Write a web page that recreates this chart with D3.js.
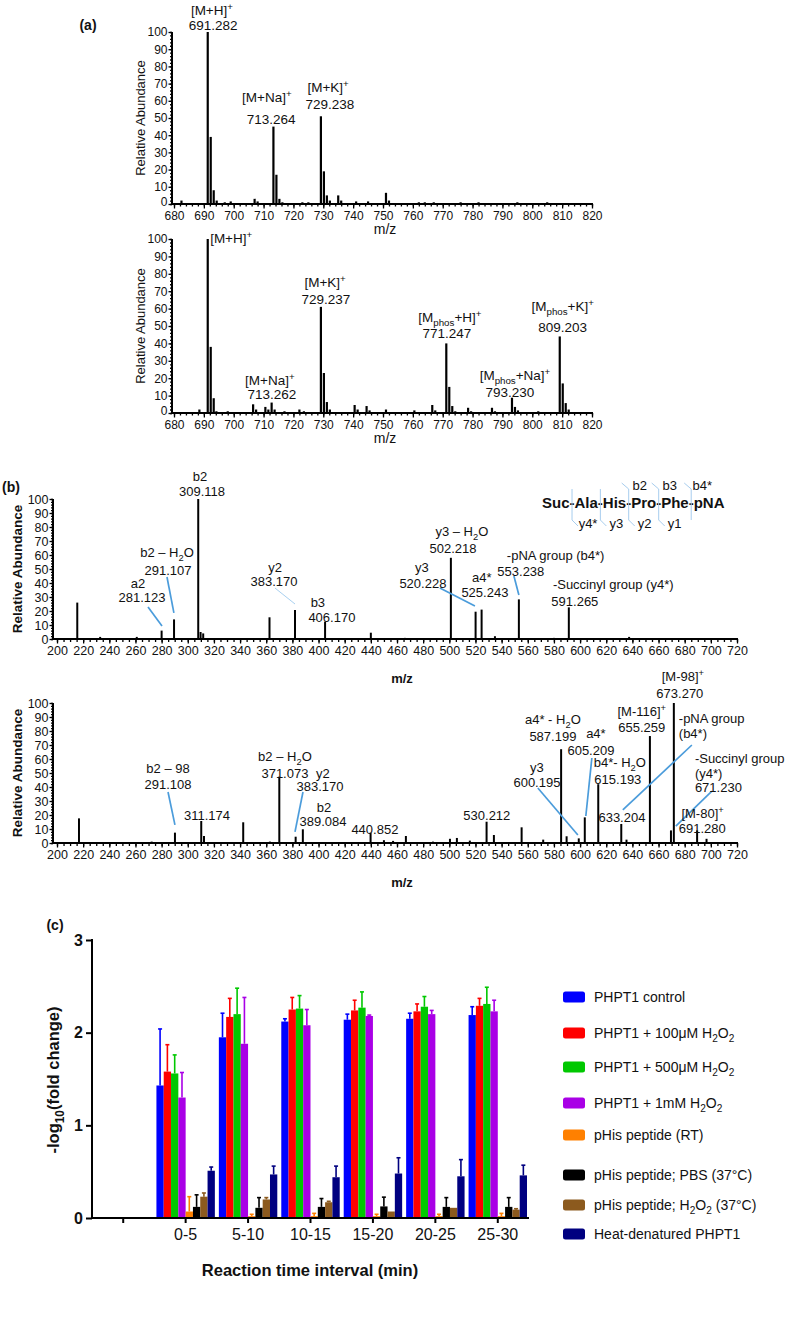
<!DOCTYPE html>
<html>
<head>
<meta charset="utf-8">
<script src="https://cdn.jsdelivr.net/npm/d3@7/dist/d3.min.js"></script>
<style>
html,body{margin:0;padding:0;background:#fff;}
svg{display:block;}
</style>
</head>
<body>
<svg id="fig" width="787" height="1320"></svg>
<script>
// ================= DATA =================
// (a) upper MS1 spectrum
const aTopMz = [682.5, 691.3, 692.3, 693.3, 694.3, 697, 699, 707, 708, 713.3, 714.3, 715.3, 716.3, 723, 725, 729.2, 730.2, 731.2, 732.2, 735, 736, 741, 745, 751, 752, 762, 764, 767, 776, 782, 795, 805];
const aTopAb = [2, 100, 39, 8, 2, 1, 1.5, 3, 1.5, 45, 17, 3, 1, 1, 1, 51, 19, 5, 2, 5, 2, 1.5, 1.5, 6.5, 2, 1, 1, 1, 1, 1, 1, 1];
// (a) lower MS1 spectrum
const aBotMz = [688.5, 691.3, 692.3, 693.3, 694.2, 698, 706.5, 707.5, 710.6, 711.6, 712.7, 713.7, 717, 722, 723.5, 729.2, 730.2, 731.2, 732.2, 740.5, 741.5, 744.5, 745.5, 751, 760.5, 766.5, 767.5, 771.2, 772.2, 773.2, 774.2, 778.5, 779.5, 786.5, 787.5, 793.2, 794.2, 795.2, 802, 809.2, 810.2, 811.2, 812.2];
const aBotAb = [2, 100, 38, 8.5, 1, 1, 5, 2, 3.5, 2, 6, 2, 1, 2, 1, 61, 23, 6.3, 2, 4.6, 2, 4, 1.5, 2, 1.5, 4.6, 1.5, 40, 15, 4, 1, 3, 1, 3, 1, 8.8, 3.5, 1.5, 1, 44, 17, 5.7, 2];
const aXTicks = [680, 690, 700, 710, 720, 730, 740, 750, 760, 770, 780, 790, 800, 810, 820];
const abundTicks = [0, 10, 20, 30, 40, 50, 60, 70, 80, 90, 100];

// (b) upper MS/MS spectrum
const bTopMz = [215.5, 233, 261, 280, 289.5, 308, 309.8, 311.8, 362.5, 382, 405, 440, 466, 501.2, 520.1, 524.7, 534.9, 553.2, 580, 591.4, 637.5, 660, 700];
const bTopAb = [26, 1.5, 1.5, 6, 14, 100, 5, 4, 15.5, 20.7, 12.4, 4.5, 0.8, 58, 19.5, 21, 2, 28.3, 0.8, 22.6, 1.5, 0.6, 0.6];
// (b) lower MS/MS spectrum
const bBotMz = [216.8, 272.4, 290.2, 310.3, 312.4, 342.4, 362.8, 370, 382.5, 388, 439.8, 450, 457, 466.8, 487.5, 500.5, 505.8, 515.7, 528.5, 534.1, 555.3, 571.8, 585.5, 589.7, 599, 603.6, 613.9, 631.5, 635.5, 653.4, 669.5, 671.7, 689.5, 696.7];
const bBotAb = [17.6, 1, 7.4, 15.7, 5, 14.8, 1, 47.4, 4.5, 9.8, 7.4, 2, 1.5, 5, 1, 3, 3.6, 1.7, 15.2, 5.7, 11.2, 2.4, 67, 4.8, 3.3, 18.3, 42, 13.6, 2.4, 76.4, 9, 100, 9, 3];
const bXTicks = [200, 220, 240, 260, 280, 300, 320, 340, 360, 380, 400, 420, 440, 460, 480, 500, 520, 540, 560, 580, 600, 620, 640, 660, 680, 700, 720];

// peak annotations: [text, m/z, abundance level, anchor]
const aTopLabels = [
  ["[M+H]^{+}", 692.7, 112.5], ["691.282", 693.1, 104],
  ["[M+Na]^{+}", 711.1, 62.2], ["713.264", 712.5, 49.4],
  ["[M+K]^{+}", 731.6, 68], ["729.238", 732.2, 58.1]
];
const aBotLabels = [
  ["[M+H]^{+}", 692.1, 100.6, "start"],
  ["[M+K]^{+}", 730.6, 75.3], ["729.237", 730.9, 65.5],
  ["[M+Na]^{+}", 712.1, 19], ["713.262", 712.8, 10.9],
  ["[M_{phos}+H]^{+}", 772.4, 55.2], ["771.247", 771.4, 46.0],
  ["[M_{phos}+Na]^{+}", 794.2, 21.8], ["793.230", 792.5, 12.1],
  ["[M_{phos}+K]^{+}", 810.2, 61.5], ["809.203", 810.2, 49.4]
];
const bTopLabels = [
  ["b2", 309.3, 116.4], ["309.118", 310.9, 105.7],
  ["b2 – H_{2}O", 284.1, 61.8], ["291.107", 284.9, 49],
  ["a2", 261.9, 40], ["281.123", 265, 29.5],
  ["y2", 366.7, 51.4], ["383.170", 365.9, 41.4],
  ["b3", 399.5, 26.4], ["406.170", 410.2, 15.7],
  ["y3 – H_{2}O", 509.6, 76.5], ["502.218", 502.8, 65],
  ["-pNA group (b4*)", 544, 60, "start"],
  ["y3", 479, 51.4], ["520.228", 479.8, 40],
  ["a4*", 524.9, 44.3], ["525.243", 527.2, 32.9],
  ["553.238", 554.7, 48.6],
  ["-Succinyl group (y4*)", 579.2, 39.3, "start"], ["591.265", 596, 27.1]
];
const bBotLabels = [
  ["b2 – 98", 284.9, 53.6], ["291.108", 284.9, 42.1],
  ["311.174", 314.7, 20],
  ["b2 – H_{2}O", 374.3, 61.8], ["371.073", 374.3, 50],
  ["y2", 403.4, 50], ["383.170", 401.1, 40.7],
  ["b2", 404.1, 25.3], ["389.084", 403.4, 15.2],
  ["440.852", 443.1, 10], ["530.212", 528.7, 20],
  ["a4* - H_{2}O", 579.2, 88.3], ["587.199", 579.2, 76.2],
  ["a4*", 612.1, 77.9], ["605.209", 608.3, 66.4],
  ["y3", 567, 54.3], ["600.195", 567, 43.6],
  ["b4*- H_{2}O", 630.4, 57.2], ["615.193", 628.9, 45.2],
  ["633.204", 632, 17.9],
  ["[M-116]^{+}", 647.2, 93.8], ["655.259", 647.2, 82.7],
  ["[M-98]^{+}", 678.6, 118.8], ["673.270", 676.3, 107],
  ["-pNA group", 675.5, 89.3, "start"], ["(b4*)", 675.5, 78.6, "start"],
  ["-Succinyl group", 687.8, 60.7, "start"], ["(y4*)", 687.8, 50, "start"], ["671.230", 687.8, 40, "start"],
  ["[M-80]^{+}", 677.5, 21, "start"], ["691.280", 675.5, 10.5, "start"]
];
// leader lines: [mz1, level1, mz2, level2, thin]
const bTopLeaders = [
  [269.6, 22.9, 280.3, 9.3], [284.1, 44.3, 289.4, 18.6], [366.7, 36.4, 382, 25, true],
  [492.8, 36.4, 519.6, 23.6], [549.4, 45, 553.2, 31.4]
];
const bBotLeaders = [
  [284.9, 36.4, 290.2, 12.9], [388.1, 36.4, 382, 7.9], [567.7, 39.3, 598.3, 5.7],
  [609, 60.7, 604.4, 19.3], [685.5, 70, 632.7, 23.6], [700.8, 37.1, 673.2, 12.1]
];
const peptide = "Suc-Ala-His-Pro-Phe-pNA";
const bIons = ["b2", "b3", "b4*"];
const yIons = ["y4*", "y3", "y2", "y1"];

// (c) bar chart
const cCategories = ["", "0-5", "5-10", "10-15", "15-20", "20-25", "25-30"];
const cYTicks = [0, 1, 2, 3];
const cSeries = ["PHPT1 control", "PHPT1 + 100μM H_{2}O_{2}", "PHPT1 + 500μM H_{2}O_{2}", "PHPT1 + 1mM H_{2}O_{2}",
  "pHis peptide (RT)", "pHis peptide; PBS (37°C)", "pHis peptide; H_{2}O_{2} (37°C)", "Heat-denatured PHPT1"];
const ctrlMean  = [1.43, 1.95, 2.12, 2.14, 2.15, 2.19];
const ctrlSD    = [0.61, 0.26, 0.03, 0.06, 0.06, 0.09];
const h100Mean  = [1.58, 2.17, 2.25, 2.24, 2.23, 2.29];
const h100SD    = [0.29, 0.20, 0.13, 0.11, 0.08, 0.08];
const h500Mean  = [1.56, 2.20, 2.26, 2.27, 2.28, 2.31];
const h500SD    = [0.20, 0.28, 0.14, 0.17, 0.11, 0.18];
const h1mMMean  = [1.30, 1.88, 2.08, 2.18, 2.20, 2.23];
const h1mMSD    = [0.27, 0.50, 0.17, 0.01, 0.04, 0.12];
const rtMean    = [0.07, 0.02, 0.02, 0.02, 0.02, 0.02];
const rtSD      = [0.16, 0.02, 0.03, 0.02, 0.02, 0.03];
const pbsMean   = [0.12, 0.11, 0.12, 0.125, 0.12, 0.12];
const pbsSD     = [0.13, 0.11, 0.09, 0.10, 0.10, 0.10];
const h2o2Mean  = [0.23, 0.20, 0.17, 0.07, 0.11, 0.09];
const h2o2SD    = [0.04, 0.02, 0.01, 0.0, 0.0, 0.01];
const heatMean  = [0.51, 0.47, 0.44, 0.48, 0.45, 0.46];
const heatSD    = [0.04, 0.09, 0.12, 0.17, 0.18, 0.11];

// ================= STYLE / LAYOUT =================
const cColors = ["#0000ff", "#ff0000", "#00c800", "#a900e6", "#ff8000", "#000000", "#8c5a1e", "#000080"];
const FONT = '"Liberation Sans", Arial, Helvetica, sans-serif';
const LEAD = "#4b9cdb";
const svg = d3.select("#fig").attr("font-family", FONT);
svg.append("rect").attr("width", 787).attr("height", 1320).attr("fill", "#fff");

function rich(t, str, fs) {
  const parts = str.split(/(_\{[^}]*\}|\^\{[^}]*\})/).filter(s => s.length);
  let off = 0;
  parts.forEach(p => {
    let target = 0, content = p, size = fs;
    if (p.startsWith("_{")) { target = fs * 0.3; content = p.slice(2, -1); size = fs * 0.72; }
    else if (p.startsWith("^{")) { target = -fs * 0.38; content = p.slice(2, -1); size = fs * 0.72; }
    t.append("tspan").attr("dy", (target - off).toFixed(2)).attr("font-size", size).text(content);
    off = target;
  });
}
function label(g, str, x, y, o = {}) {
  const fs = o.size || 13;
  const t = g.append("text").attr("x", x).attr("y", y + 0.35 * fs)
    .attr("font-size", fs).attr("text-anchor", o.anchor || "middle")
    .attr("font-weight", o.bold ? "bold" : "normal").attr("fill", o.fill || "#111");
  if (o.rotate) t.attr("transform", `rotate(${o.rotate},${x},${y})`);
  rich(t, str, fs);
  return t;
}

function spectrum(cfg) {
  const g = svg.append("g");
  const x = d3.scaleLinear().domain(cfg.xDomain).range(cfg.xRange);
  const y = d3.scaleLinear().domain([0, 100]).range(cfg.yRange);
  const y0 = y(0);
  // minor ticks
  const yMin = g.append("g").attr("transform", `translate(${cfg.yAxisX},0)`)
    .call(d3.axisLeft(y).tickValues(d3.range(0, 101, 2)).tickSize(2).tickSizeOuter(0).tickFormat(""));
  const xMin = g.append("g").attr("transform", `translate(0,${y0})`)
    .call(d3.axisBottom(x).tickValues(d3.range(cfg.xDomain[0], cfg.xDomain[1] + 0.01, cfg.xMinor)).tickSize(cfg.minorLen).tickSizeOuter(0).tickFormat(""));
  // major ticks
  const yMaj = g.append("g").attr("transform", `translate(${cfg.yAxisX},0)`)
    .call(d3.axisLeft(y).tickValues(abundTicks).tickSize(3.5).tickPadding(1).tickSizeOuter(0));
  const xMaj = g.append("g").attr("transform", `translate(0,${y0})`)
    .call(d3.axisBottom(x).tickValues(cfg.xTicks).tickSize(4.5).tickPadding(2.5).tickSizeOuter(0));
  [yMin, xMin, yMaj, xMaj].forEach(a => {
    a.select(".domain").remove();
    a.attr("font-family", FONT);
    a.selectAll("line").attr("stroke", "#000").attr("stroke-width", 1.3);
  });
  yMaj.selectAll("text").attr("font-size", cfg.yFont).attr("fill", "#111");
  // on the taller panels the zero label sits slightly above the axis so it clears the first x label
  if (cfg.liftZero) yMaj.selectAll("text").filter(d => d === 0).attr("dy", "0.1em");
  xMaj.selectAll("text").attr("font-size", cfg.xFont).attr("fill", "#111");
  // axis lines
  g.append("line").attr("x1", cfg.yAxisX).attr("x2", cfg.yAxisX).attr("y1", y0 + 1).attr("y2", y(100)).attr("stroke", "#000").attr("stroke-width", 2);
  g.append("line").attr("x1", cfg.yAxisX - 1).attr("x2", cfg.xRange[1] + 1).attr("y1", y0).attr("y2", y0).attr("stroke", "#000").attr("stroke-width", 2);
  // peaks
  g.append("g").selectAll("line").data(d3.zip(cfg.mz, cfg.ab)).join("line")
    .attr("x1", d => x(d[0])).attr("x2", d => x(d[0]))
    .attr("y1", y0).attr("y2", d => y(d[1]))
    .attr("stroke", "#000").attr("stroke-width", cfg.peakW);
  // leader lines
  (cfg.leaders || []).forEach(l => {
    g.append("line").attr("x1", x(l[0])).attr("y1", y(l[1])).attr("x2", x(l[2])).attr("y2", y(l[3]))
      .attr("stroke", l[4] ? "#a8d0f0" : LEAD).attr("stroke-width", l[4] ? 1 : 1.7);
  });
  // labels
  cfg.labels.forEach(l => label(g, l[0], x(l[1]), y(l[2]), { size: cfg.labelFont, anchor: l[3] || "middle" }));
  // axis titles
  label(g, "Relative Abundance", cfg.yTitleX, (y(0) + y(100)) / 2, { size: cfg.titleFont, rotate: -90, bold: cfg.bold });
  label(g, "m/z", cfg.mzX, cfg.mzY, { size: cfg.mzFont, bold: cfg.bold, anchor: cfg.mzAnchor || "middle" });
  return { g, x, y };
}

// ----- panel (a) -----
label(svg, "(a)", 88, 25, { size: 14, bold: true });
const aCommon = { xDomain: [680, 820], xRange: [174, 592], xTicks: aXTicks, xMinor: 2, minorLen: 2.5, yAxisX: 172,
  yFont: 12, xFont: 12, peakW: 2.2, labelFont: 13.5, titleFont: 13, yTitleX: 140, mzFont: 14, mzX: 385, bold: false, liftZero: true };
spectrum(Object.assign({}, aCommon, { yRange: [204, 32], mz: aTopMz, ab: aTopAb, labels: aTopLabels, mzY: 229 }));
spectrum(Object.assign({}, aCommon, { yRange: [413, 239], mz: aBotMz, ab: aBotAb, labels: aBotLabels, mzY: 438 }));

// ----- panel (b) -----
label(svg, "(b)", 2, 487, { size: 14, bold: true, anchor: "start" });
const bCommon = { xDomain: [200, 720], xRange: [57, 737], xTicks: bXTicks, xMinor: 5, minorLen: 3, yAxisX: 53,
  yFont: 12.5, xFont: 12.5, peakW: 2, labelFont: 13, titleFont: 13.5, yTitleX: 17, mzFont: 13, mzX: 402, bold: true, liftZero: false };
spectrum(Object.assign({}, bCommon, { yRange: [639, 499], mz: bTopMz, ab: bTopAb, labels: bTopLabels, leaders: bTopLeaders, mzY: 678 }));
spectrum(Object.assign({}, bCommon, { yRange: [843, 703], mz: bBotMz, ab: bBotAb, labels: bBotLabels, leaders: bBotLeaders, mzY: 882 }));

// peptide fragmentation scheme
(function () {
  const g = svg.append("g");
  const x0 = 542, base = 508, fs = 15;
  const t = g.append("text").attr("x", x0).attr("y", base).attr("font-size", fs).attr("font-weight", "bold").attr("fill", "#111").text(peptide);
  const node = t.node();
  const sites = [];
  for (let i = 0; i < peptide.length; i++) {
    if (peptide[i] === "-") {
      const pre = node.getSubStringLength(0, i);
      const w = node.getSubStringLength(i, 1);
      sites.push(x0 + pre + w / 2);
    }
  }
  const col = "#a7cdee";
  sites.forEach((sx, i) => {
    g.append("line").attr("x1", sx).attr("x2", sx).attr("y1", 489).attr("y2", 520).attr("stroke", col).attr("stroke-width", 1);
    if (i >= 2) {
      g.append("line").attr("x1", sx - 7).attr("y1", 483).attr("x2", sx).attr("y2", 489).attr("stroke", col).attr("stroke-width", 1);
      label(g, bIons[i - 2], sx + 11, 485, { size: 13 });
    }
    if (i <= 3) {
      g.append("line").attr("x1", sx).attr("y1", 520).attr("x2", sx + 6).attr("y2", 526).attr("stroke", col).attr("stroke-width", 1);
      label(g, yIons[i], sx + 16, 523, { size: 13 });
    }
  });
})();

// ----- panel (c) -----
label(svg, "(c)", 55, 925, { size: 14, bold: true });
(function () {
  const g = svg.append("g");
  const x = d3.scaleBand().domain(cCategories).range([92, 529]).paddingInner(0.064).paddingOuter(0.032);
  const xs = d3.scaleBand().domain(d3.range(cSeries.length)).range([0, x.bandwidth()]);
  const y = d3.scaleLinear().domain([0, 3]).range([1218, 940]);
  const means = [ctrlMean, h100Mean, h500Mean, h1mMMean, rtMean, pbsMean, h2o2Mean, heatMean];
  const sds = [ctrlSD, h100SD, h500SD, h1mMSD, rtSD, pbsSD, h2o2SD, heatSD];
  const cats = cCategories.slice(1);
  const rows = [];
  means.forEach((m, si) => m.forEach((v, ci) => rows.push({ si, cat: cats[ci], v, sd: sds[si][ci] })));
  // error bars (upper only)
  const eb = g.append("g");
  rows.forEach(r => {
    const cx = x(r.cat) + xs(r.si) + xs.bandwidth() / 2;
    if (r.sd > 0.005) {
      eb.append("line").attr("x1", cx).attr("x2", cx).attr("y1", y(r.v)).attr("y2", y(r.v + r.sd))
        .attr("stroke", cColors[r.si]).attr("stroke-width", 1.6);
      eb.append("line").attr("x1", cx - 2).attr("x2", cx + 2).attr("y1", y(r.v + r.sd)).attr("y2", y(r.v + r.sd))
        .attr("stroke", cColors[r.si]).attr("stroke-width", 1.6);
    }
  });
  g.append("g").selectAll("rect").data(rows).join("rect")
    .attr("x", d => x(d.cat) + xs(d.si)).attr("width", xs.bandwidth())
    .attr("y", d => y(d.v)).attr("height", d => y(0) - y(d.v))
    .attr("fill", d => cColors[d.si]);
  // axes
  const ya = g.append("g").attr("transform", "translate(92,0)")
    .call(d3.axisLeft(y).tickValues(cYTicks).tickFormat(d3.format("d")).tickSize(6).tickPadding(3).tickSizeOuter(0));
  const xa = g.append("g").attr("transform", "translate(0,1218)")
    .call(d3.axisBottom(x).tickSize(5).tickPadding(6).tickSizeOuter(0));
  [ya, xa].forEach(a => {
    a.select(".domain").remove();
    a.attr("font-family", FONT);
    a.selectAll("line").attr("stroke", "#000").attr("stroke-width", 2);
  });
  ya.selectAll("text").attr("font-size", 16).attr("font-weight", "bold").attr("fill", "#111");
  xa.selectAll("text").attr("font-size", 16).attr("fill", "#111");
  g.append("line").attr("x1", 92).attr("x2", 92).attr("y1", 1219).attr("y2", 939).attr("stroke", "#000").attr("stroke-width", 2);
  g.append("line").attr("x1", 91).attr("x2", 529).attr("y1", 1218).attr("y2", 1218).attr("stroke", "#000").attr("stroke-width", 2);
  label(g, "-log_{10}(fold change)", 53, 1080, { size: 16.5, bold: true, rotate: -90 });
  label(g, "Reaction time interval (min)", 310, 1270, { size: 16.5, bold: true });
  // legend
  const legendY = [997, 1033, 1067, 1103, 1135, 1175, 1205, 1234];
  cSeries.forEach((s, i) => {
    g.append("rect").attr("x", 563).attr("y", legendY[i] - 5.5).attr("width", 22).attr("height", 11).attr("rx", 2.5)
      .attr("fill", cColors[i]);
    label(g, s, 594, legendY[i], { size: 14, anchor: "start" });
  });
})();
</script>
</body>
</html>
